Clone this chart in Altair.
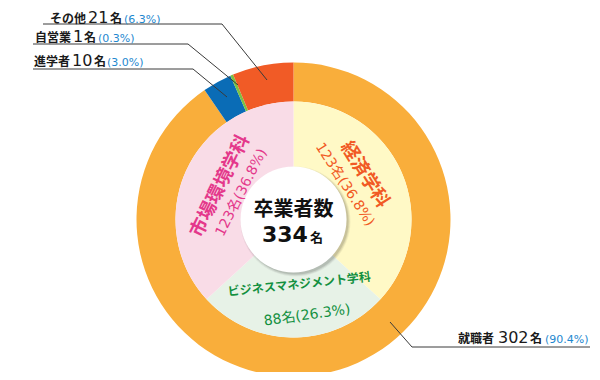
import math
import altair as alt
import pandas as pd

# ---------------- data ----------------
outer_cats = ["就職者", "進学者", "自営業", "その他"]
outer_counts = [302, 10, 1, 21]
outer_pcts = ["90.4", "3.0", "0.3", "6.3"]
outer_colors = ["#F9AE3B", "#0A6CB6", "#7CC143", "#F15B26"]

inner_cats = ["経済学科", "ビジネスマネジメント学科", "市場環境学科"]
inner_counts = [123, 88, 123]
inner_pcts = ["36.8", "26.3", "36.8"]
inner_fill = ["#FFF9C6", "#E7F2E7", "#F9DCE7"]
inner_text_colors = ["#F15A24", "#13903F", "#E4388B"]

total_label = "卒業者数"
total = 334

# ---------------- layout ----------------
W, H = 584, 364
CX, CY = 285.5, 211.5
R_OUT, R_MID, R_HOLE = 157, 118, 53
JP = "Noto Sans CJK JP"
NUM = "DejaVu Sans, Noto Sans CJK JP"
PCT_BLUE = "#1E88CF"

df_outer = pd.DataFrame({"cat": outer_cats, "count": outer_counts,
                         "order": list(range(len(outer_cats))), "color": outer_colors})
df_inner = pd.DataFrame({"cat": inner_cats, "count": inner_counts,
                         "order": list(range(len(inner_cats))), "color": inner_fill})

outer = alt.Chart(df_outer).mark_arc(outerRadius=R_OUT, innerRadius=R_MID).encode(
    theta=alt.Theta("count:Q", stack=True),
    order=alt.Order("order:Q"),
    color=alt.Color("color:N", scale=None),
    x=alt.value(CX), y=alt.value(CY),
)
inner = alt.Chart(df_inner).mark_arc(outerRadius=R_MID, innerRadius=0).encode(
    theta=alt.Theta("count:Q", stack=True),
    order=alt.Order("order:Q"),
    color=alt.Color("color:N", scale=None),
    x=alt.value(CX), y=alt.value(CY),
)

one = pd.DataFrame({"k": [0]})
shadows = [
    alt.Chart(one).mark_arc(theta=0, theta2=2 * math.pi, outerRadius=R_HOLE + r, innerRadius=0,
                            opacity=o, color="#000").encode(x=alt.value(CX + 2), y=alt.value(CY + 2))
    for r, o in [(2, 0.05), (1, 0.08), (0, 0.1)]
]
hole = alt.Chart(one).mark_arc(theta=0, theta2=2 * math.pi, outerRadius=R_HOLE, innerRadius=0,
                               color="white").encode(x=alt.value(CX), y=alt.value(CY))

# leader lines (image coords -> chart coords)
seg_pts = [
    [(43, 24), (222, 24), (267, 80)],      # その他
    [(33, 44), (188, 44), (238, 85)],      # 自営業
    [(33, 69), (193, 69), (227, 97)],      # 進学者
    [(590, 347), (412, 347), (390, 322)],  # 就職者
]
rows = []
for pts in seg_pts:
    for (a, b) in zip(pts[:-1], pts[1:]):
        rows.append({"x": a[0] - 8, "y": a[1] - 8, "x2": b[0] - 8, "y2": b[1] - 8})
lines = alt.Chart(pd.DataFrame(rows)).mark_rule(color="#3a3a3a", strokeWidth=1).encode(
    x=alt.X("x:Q", scale=None), y=alt.Y("y:Q", scale=None),
    x2="x2:Q", y2="y2:Q",
)

# outer label pieces: name, number, 名, pct  (chart coords)
label_pos = {  # name_x, num_x, mei_x, pct_x, baseline_y
    "その他": (42, 80, 102, 116, 14.5),
    "自営業": (27, 65, 76, 90, 34),
    "進学者": (26, 64, 86, 99, 58),
    "就職者": (450, 490, 522, 537, 335),
}
bold_rows, num_rows, pct_rows = [], [], []
for cat, n, p in zip(outer_cats, outer_counts, outer_pcts):
    nx, mx, kx, px, by = label_pos[cat]
    bold_rows.append({"t": cat, "x": nx, "y": by})
    bold_rows.append({"t": "名", "x": kx, "y": by})
    num_rows.append({"t": str(n), "x": mx, "y": by})
    pct_rows.append({"t": f"({p}%)", "x": px, "y": by})


def text_layer(rows, **kw):
    return alt.Chart(pd.DataFrame(rows)).mark_text(align="left", baseline="alphabetic", **kw).encode(
        x=alt.X("x:Q", scale=None), y=alt.Y("y:Q", scale=None), text="t:N")


t_names = text_layer(bold_rows, font=JP, fontWeight="bold", fontSize=12, color="#1a1a1a")
t_nums = text_layer(num_rows, font=NUM, fontSize=16, color="#1a1a1a")
t_pcts = text_layer(pct_rows, font=NUM, fontSize=11, color=PCT_BLUE)

# center text
center_rows = [{"t": total_label, "x": CX, "y": 202}]
t_center1 = alt.Chart(pd.DataFrame(center_rows)).mark_text(
    align="center", baseline="middle", font=JP, fontWeight="bold", fontSize=20, color="#111"
).encode(x=alt.X("x:Q", scale=None), y=alt.Y("y:Q", scale=None), text="t:N")
t_center2 = text_layer([{"t": str(total), "x": 254, "y": 234}], font=NUM, fontWeight="bold",
                       fontSize=22, color="#111")
t_center3 = text_layer([{"t": "名", "x": 302, "y": 234}], font=JP, fontWeight="bold",
                       fontSize=13, color="#111")

# inner ring labels: (theta deg, radius, rotation) for title and count line
inner_pos = {
    "経済学科": ((57.8, 84.5, 58), (55.8, 62, 57)),
    "ビジネスマネジメント学科": ((174.8, 65, -6), (171.9, 97, -8)),
    "市場環境学科": ((294.5, 81, -64), (297.4, 58.6, -63)),
}
title_rows, sub_rows = [], []
for cat, n, p, c in zip(inner_cats, inner_counts, inner_pcts, inner_text_colors):
    (t1, r1, a1), (t2, r2, a2) = inner_pos[cat]
    size = 12 if len(cat) > 6 else 18.5
    title_rows.append({"t": cat, "x": CX + r1 * math.sin(math.radians(t1)),
                       "y": CY - r1 * math.cos(math.radians(t1)), "a": a1 % 360, "c": c, "s": size})
    sub_rows.append({"t": f"{n}名({p}%)", "x": CX + r2 * math.sin(math.radians(t2)),
                     "y": CY - r2 * math.cos(math.radians(t2)), "a": a2 % 360, "c": c})

t_inner1 = alt.Chart(pd.DataFrame(title_rows)).mark_text(
    align="center", baseline="middle", font=JP, fontWeight="bold"
).encode(x=alt.X("x:Q", scale=None), y=alt.Y("y:Q", scale=None), text="t:N",
         angle=alt.Angle("a:Q", scale=None), color=alt.Color("c:N", scale=None),
         size=alt.Size("s:Q", scale=None))
t_inner2 = alt.Chart(pd.DataFrame(sub_rows)).mark_text(
    align="center", baseline="middle", font=NUM, fontSize=14
).encode(x=alt.X("x:Q", scale=None), y=alt.Y("y:Q", scale=None), text="t:N",
         angle=alt.Angle("a:Q", scale=None), color=alt.Color("c:N", scale=None))

chart = alt.layer(
    outer, inner, *shadows, hole, lines,
    t_names, t_nums, t_pcts, t_center1, t_center2, t_center3, t_inner1, t_inner2,
).properties(width=W, height=H, autosize="none", padding=0).configure_view(strokeWidth=0)

chart.save("out.html", embed_options={"renderer": "svg", "actions": False})
